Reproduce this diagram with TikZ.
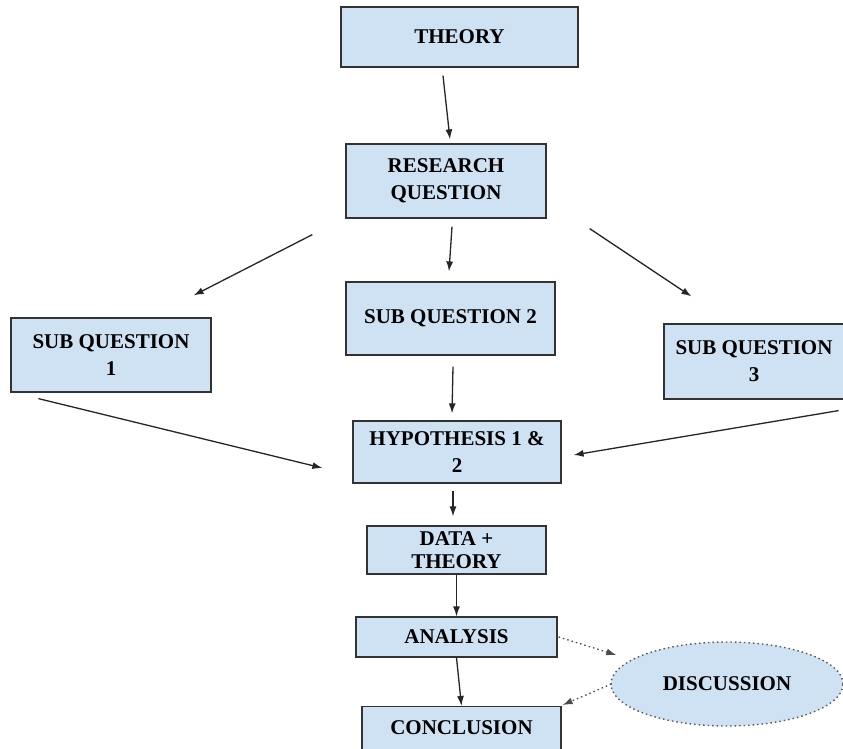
\documentclass[tikz,border=0pt]{standalone}
\usepackage{fontspec}
\setmainfont{Liberation Serif}
\usetikzlibrary{arrows.meta,shapes.geometric}
\definecolor{boxblue}{HTML}{CFE2F3}
\tikzset{
    box/.style={draw=black!80, line width=1.2pt, fill=boxblue, align=center,
        inner sep=0pt, font=\bfseries\fontsize{21}{27}\selectfont},
    arr/.style={-{Latex[length=10pt,width=7pt]}, line width=1.3pt, black!85},
    dotarr/.style={arr, black!70, dash pattern=on 1.5pt off 3pt}
}
\begin{document}
\begin{tikzpicture}[x=1pt,y=-1pt]
    \fill[white] (0,0) rectangle (843,749);
    \clip (0,0) rectangle (843,749);
    \node[box, minimum width=237pt, minimum height=60pt] (theory) at (459.5,37) {THEORY};
    \node[box, minimum width=200pt, minimum height=74pt] (question) at (446,181) {RESEARCH\\QUESTION};
    \node[box, minimum width=200pt, minimum height=74pt] (sub1) at (111,355) {SUB QUESTION\\1};
    \node[box, minimum width=209pt, minimum height=73pt] (sub2) at (450.5,318.5) {SUB QUESTION 2};
    \node[box, minimum width=180pt, minimum height=75pt] (sub3) at (754,361.5) {SUB QUESTION\\3};
    \node[box, minimum width=208pt, minimum height=62pt] (hyp) at (457,452) {HYPOTHESIS 1 \&\\2};
    \node[box, minimum width=179pt, minimum height=48pt, font=\bfseries\fontsize{21}{23}\selectfont] (data) at (456.5,550) {DATA +\\THEORY};
    \node[box, minimum width=201pt, minimum height=40pt] (analysis) at (456.5,637) {ANALYSIS};
    \node[box, minimum width=199pt, minimum height=46pt, anchor=north] (conclusion) at (461.5,706) {\raisebox{4pt}{CONCLUSION}};
    \node[box, ellipse, draw=black!65, line width=1.4pt, dash pattern=on 1.5pt off 3pt,
        minimum width=232pt, minimum height=84pt] (discussion) at (727,684) {DISCUSSION};
    \draw[arr] ([shift={(-16.5,8)}]theory.south) -- ([shift={(4,-4)}]question.north);
    \draw[arr] ([shift={(-33,16)}]question.south west) -- ([shift={(-18,-22)}]sub1.north east);
    \draw[arr] ([shift={(6,8)}]question.south) -- ([shift={(-1.5,-10)}]sub2.north);
    \draw[arr] ([shift={(43,10)}]question.south east) -- ([shift={(28,-27)}]sub3.north west);
    \draw[arr] ([shift={(2.5,11)}]sub2.south) -- ([shift={(-5,-7)}]hyp.north);
    \draw[arr] ([shift={(28,6)}]sub1.south west) -- ([shift={(-30,16)}]hyp.west);
    \draw[arr] ([shift={(-6,11)}]sub3.south east) -- ([shift={(12,3)}]hyp.east);
    \draw[arr] ([shift={(-4,7)}]hyp.south) -- ([shift={(-3.5,-9)}]data.north);
    \draw[arr] (data.south) -- (analysis.north);
    \draw[arr] (analysis.south) -- (conclusion.north);
    \draw[dotarr] ([shift={(1,0)}]analysis.east) -- ([shift={(6,-29)}]discussion.west);
    \draw[dotarr] ([shift={(1,0)}]discussion.west) -- ([shift={(1,-1)}]conclusion.north east);
\end{tikzpicture}
\end{document}
